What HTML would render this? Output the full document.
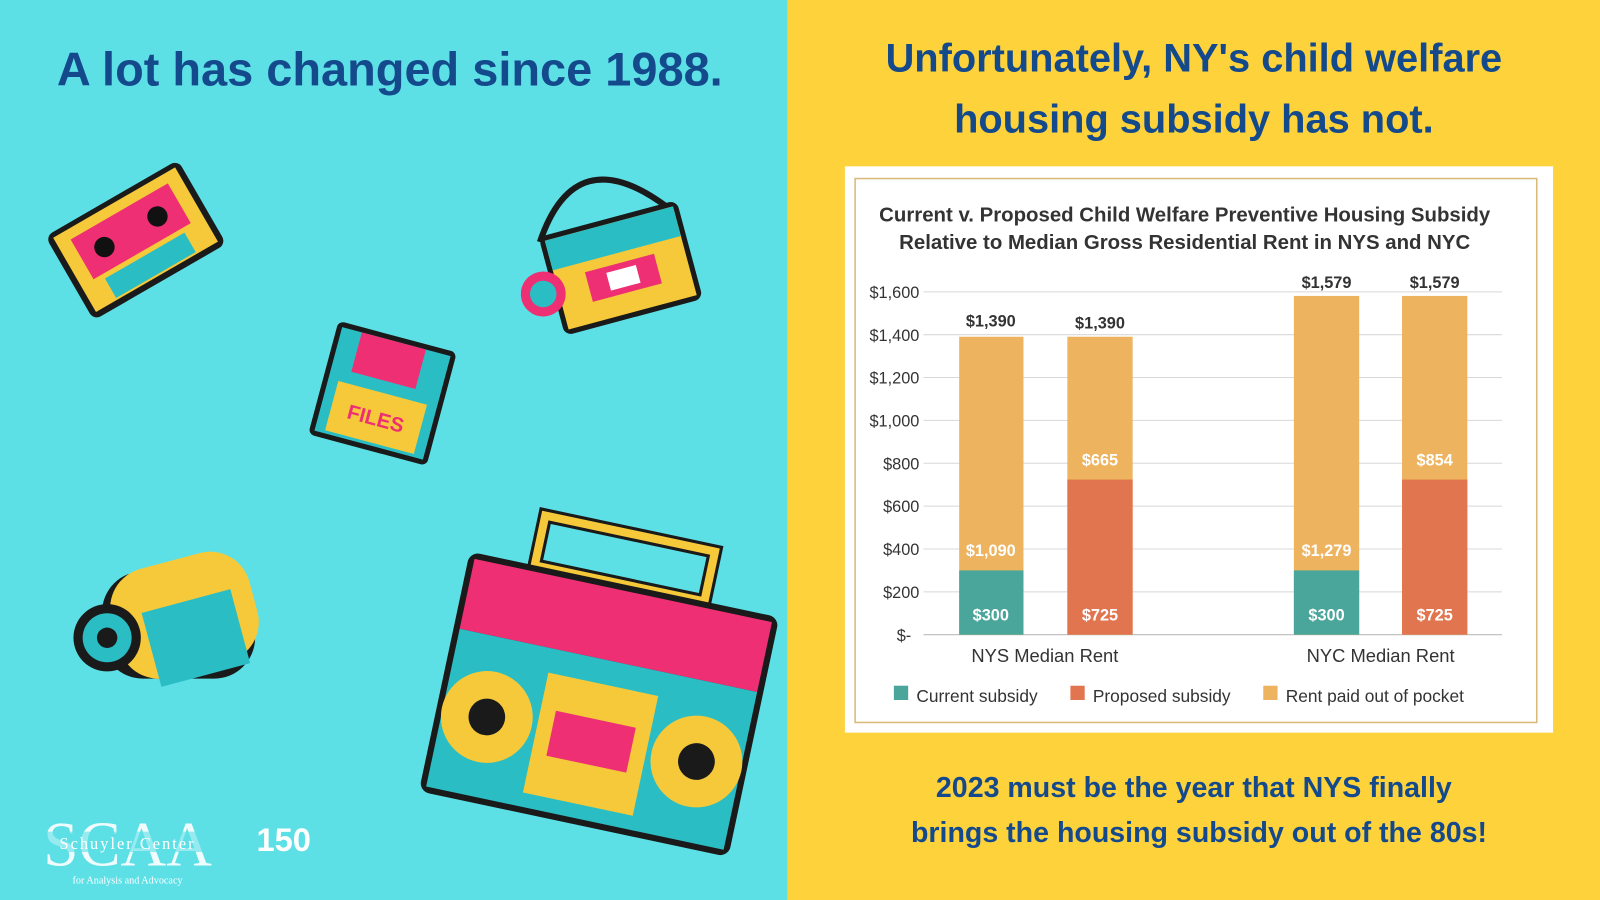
<!DOCTYPE html>
<html><head><meta charset="utf-8"><style>
html,body{margin:0;padding:0;width:1600px;height:900px;overflow:hidden}
svg{display:block}
text{font-family:"Liberation Sans",sans-serif}
text.serif{font-family:"Liberation Serif",serif}
</style></head><body>
<svg width="1600" height="900" viewBox="0 0 1568 882" preserveAspectRatio="none">
<rect x="0" y="0" width="772" height="882" fill="#5ce0e6"/>
<rect x="772" y="0" width="796" height="882" fill="#fdd23b"/>
<text x="382" y="84" text-anchor="middle" font-size="46" font-weight="bold" fill="#144a8c">A lot has changed since 1988.</text>
<text x="1170" y="70" text-anchor="middle" font-size="39" font-weight="bold" fill="#144a8c">Unfortunately, NY's child welfare</text>
<text x="1170" y="130" text-anchor="middle" font-size="39" font-weight="bold" fill="#144a8c">housing subsidy has not.</text>
<text x="1170" y="781" text-anchor="middle" font-size="28" font-weight="bold" fill="#144a8c">2023 must be the year that NYS finally</text>
<text x="1175" y="825" text-anchor="middle" font-size="28" font-weight="bold" fill="#144a8c">brings the housing subsidy out of the 80s!</text>

<!-- decorations -->
<g transform="rotate(-30 130 240)"><rect x="60" y="190" width="150" height="95" rx="8" fill="#1a1a1a"/><rect x="66" y="195" width="138" height="84" fill="#f5c93a"/><rect x="80" y="205" width="110" height="45" fill="#ee2f73"/><circle cx="105" cy="228" r="10" fill="#111"/><circle cx="165" cy="228" r="10" fill="#111"/><rect x="90" y="255" width="90" height="22" fill="#2bbdc4"/></g>
<g transform="rotate(15 375 385)"><rect x="315" y="328" width="120" height="115" rx="6" fill="#1a1a1a"/><rect x="320" y="333" width="110" height="105" fill="#2bbdc4"/><rect x="340" y="333" width="65" height="40" fill="#ee2f73"/><rect x="330" y="385" width="90" height="50" fill="#f5c93a"/><text x="375" y="418" text-anchor="middle" font-size="20" font-weight="bold" fill="#ee2f73">FILES</text></g>
<g transform="rotate(-15 600 270)"><path d="M540 220 Q600 130 670 220" stroke="#1a1a1a" stroke-width="6" fill="none"/><rect x="540" y="215" width="140" height="100" rx="8" fill="#1a1a1a"/><rect x="545" y="220" width="130" height="90" fill="#f5c93a"/><rect x="545" y="220" width="130" height="30" fill="#2bbdc4"/><rect x="575" y="260" width="70" height="30" fill="#ee2f73"/><rect x="595" y="266" width="30" height="18" fill="#fff"/><circle cx="530" cy="270" r="22" fill="#ee2f73"/><circle cx="530" cy="270" r="13" fill="#2bbdc4"/></g>
<g><rect x="100" y="560" width="150" height="105" rx="40" fill="#1a1a1a"/><rect x="110" y="548" width="140" height="110" rx="40" fill="#f5c93a" transform="rotate(-15 180 600)"/><rect x="140" y="590" width="90" height="75" fill="#2bbdc4" transform="rotate(-15 180 600)"/><circle cx="105" cy="625" r="33" fill="#1a1a1a"/><circle cx="105" cy="625" r="24" fill="#2bbdc4"/><circle cx="105" cy="625" r="10" fill="#1a1a1a"/></g>
<g transform="rotate(12 585 700)"><rect x="495" y="520" width="170" height="50" fill="none" stroke="#1a1a1a" stroke-width="14"/><rect x="495" y="520" width="170" height="50" fill="none" stroke="#f5c93a" stroke-width="8"/><rect x="430" y="570" width="310" height="240" rx="10" fill="#1a1a1a"/><rect x="436" y="576" width="298" height="70" fill="#ee2f73"/><rect x="436" y="646" width="298" height="158" fill="#2bbdc4"/><circle cx="480" cy="725" r="45" fill="#f5c93a"/><circle cx="480" cy="725" r="18" fill="#1a1a1a"/><circle cx="690" cy="725" r="45" fill="#f5c93a"/><circle cx="690" cy="725" r="18" fill="#1a1a1a"/><rect x="530" y="670" width="110" height="120" fill="#f5c93a"/><rect x="545" y="705" width="80" height="45" fill="#ee2f73"/></g>
<text class="serif" x="125" y="848" text-anchor="middle" font-size="62" fill="#fff" opacity="0.9">SCAA</text>
<rect x="15" y="815" width="220" height="20" fill="#5ce0e6" opacity="0.6"/>
<text class="serif" x="125" y="832" text-anchor="middle" font-size="16" fill="#fff" letter-spacing="2">Schuyler Center</text>
<text class="serif" x="125" y="866" text-anchor="middle" font-size="10" fill="#fff">for Analysis and Advocacy</text>
<text x="278" y="834" text-anchor="middle" font-size="32" font-weight="bold" fill="#fff">150</text>

<!-- chart -->
<rect x="828" y="163" width="694" height="555" fill="#fff"/>
<rect x="838" y="175" width="668" height="533" fill="none" stroke="#d9b97a" stroke-width="1.5"/>
<text x="1161" y="217" text-anchor="middle" font-size="20" font-weight="bold" fill="#333">Current v. Proposed Child Welfare Preventive Housing Subsidy</text>
<text x="1161" y="244" text-anchor="middle" font-size="20" font-weight="bold" fill="#333">Relative to Median Gross Residential Rent in NYS and NYC</text>
<g stroke="#d8d8d8" stroke-width="1">
<line x1="905" y1="286" x2="1472" y2="286"/><line x1="905" y1="328" x2="1472" y2="328"/><line x1="905" y1="370" x2="1472" y2="370"/><line x1="905" y1="412" x2="1472" y2="412"/><line x1="905" y1="454" x2="1472" y2="454"/><line x1="905" y1="496" x2="1472" y2="496"/><line x1="905" y1="538" x2="1472" y2="538"/><line x1="905" y1="580" x2="1472" y2="580"/><line x1="905" y1="622" x2="1472" y2="622" stroke="#bbb"/>
</g>
<g font-size="16" fill="#333" text-anchor="end">
<text x="901" y="292">$1,600</text><text x="901" y="334">$1,400</text><text x="901" y="376">$1,200</text><text x="901" y="418">$1,000</text><text x="901" y="460">$800</text><text x="901" y="502">$600</text><text x="901" y="544">$400</text><text x="901" y="586">$200</text><text x="893" y="628">$-</text>
</g>
<rect x="940" y="330" width="63" height="292" fill="#edb35e"/>
<rect x="940" y="559" width="63" height="63" fill="#4aa59a"/>
<rect x="1046" y="330" width="64" height="292" fill="#edb35e"/>
<rect x="1046" y="470" width="64" height="152" fill="#e07550"/>
<rect x="1268" y="290" width="64" height="332" fill="#edb35e"/>
<rect x="1268" y="559" width="64" height="63" fill="#4aa59a"/>
<rect x="1374" y="290" width="64" height="332" fill="#edb35e"/>
<rect x="1374" y="470" width="64" height="152" fill="#e07550"/>
<g font-size="16" font-weight="bold" text-anchor="middle">
<text x="971" y="320" fill="#333">$1,390</text><text x="1078" y="322" fill="#333">$1,390</text><text x="1300" y="282" fill="#333">$1,579</text><text x="1406" y="282" fill="#333">$1,579</text>
<g fill="#fff"><text x="971" y="545">$1,090</text><text x="971" y="608">$300</text><text x="1078" y="456">$665</text><text x="1078" y="608">$725</text><text x="1300" y="545">$1,279</text><text x="1300" y="608">$300</text><text x="1406" y="456">$854</text><text x="1406" y="608">$725</text></g>
</g>
<g font-size="18" fill="#333" text-anchor="middle"><text x="1024" y="649">NYS Median Rent</text><text x="1353" y="649">NYC Median Rent</text></g>
<g font-size="17" fill="#333">
<rect x="876" y="672" width="14" height="14" fill="#4aa59a"/><text x="898" y="688">Current subsidy</text>
<rect x="1049" y="672" width="14" height="14" fill="#e07550"/><text x="1071" y="688">Proposed subsidy</text>
<rect x="1238" y="672" width="14" height="14" fill="#edb35e"/><text x="1260" y="688">Rent paid out of pocket</text>
</g>
</svg>
</body></html>
